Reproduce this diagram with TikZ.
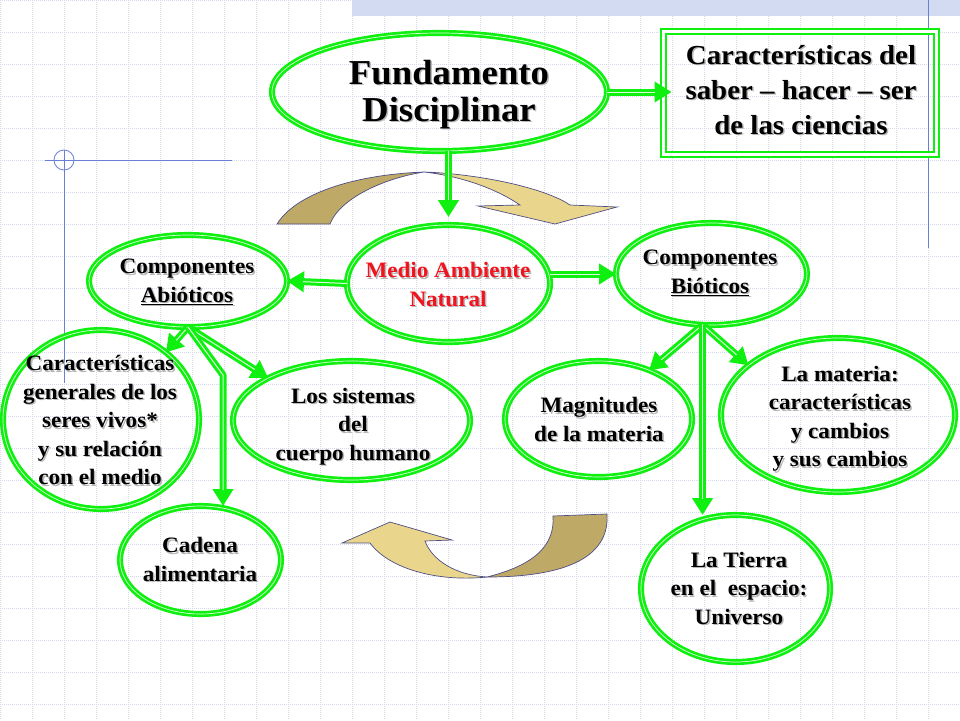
\documentclass[tikz,border=0pt]{standalone}
\usepackage{fontspec}
\setmainfont{Liberation Serif}[FakeStretch=1.05]
\usetikzlibrary{shapes.geometric,arrows.meta}

\definecolor{leafgreen}{HTML}{10F010}
\definecolor{gridblue}{HTML}{D5D9EE}
\definecolor{ruleblue}{HTML}{6A80D8}
\definecolor{bandblue}{HTML}{D3DBF2}
\definecolor{ribbondark}{HTML}{BEA967}
\definecolor{ribbonlight}{HTML}{E9D68C}
\definecolor{ribbonline}{HTML}{4E4E86}
\definecolor{titlered}{HTML}{F0141E}

% text with a soft grey drop shadow
\newcommand{\shadowtxt}[1]{%
  \leavevmode\rlap{\hspace{1.5pt}\raisebox{-1.5pt}{\color{black!28}\begin{tabular}{@{}c@{}}#1\end{tabular}}}%
  \begin{tabular}{@{}c@{}}#1\end{tabular}}

\tikzset{
  ell/.style={ellipse, draw=leafgreen, double=leafgreen!15!white, line width=2.7pt, double distance=0.7pt, inner sep=0pt, outer sep=0pt},
  framebox/.style={rectangle, draw=leafgreen, double=white, line width=2.2pt, double distance=2.4pt, inner sep=0pt, outer sep=0pt},
  txt/.style={font=\bfseries\fontsize{22}{28.5}\selectfont, inner sep=0pt},
  conn/.style={draw=leafgreen, line width=7pt, line join=round, -{Triangle[length=17pt,width=20pt]},
    postaction={draw=leafgreen!15!white, line width=1pt, arrows=-, shorten >=#1}},
  conn/.default=16pt,
  gridline/.style={gridblue, line width=0.5pt, dash pattern=on 1pt off 1pt},
  rule/.style={ruleblue, line width=0.8pt},
  ribbonback/.style={fill=ribbondark, draw=ribbonline, line width=0.7pt},
  ribbonfront/.style={fill=ribbonlight, draw=ribbonline, line width=0.7pt}
}

\begin{document}
\begin{tikzpicture}[x=1pt, y=-1pt]
    \useasboundingbox (0,0) rectangle (960,720);

    % Background grid and page rules
    \foreach \gx in {0,32,...,960} \draw[gridline] (\gx,0) -- (\gx,720);
    \foreach \gy in {0,32,...,720} \draw[gridline] (0,\gy) -- (960,\gy);
    \fill[bandblue] (352,0) rectangle (960,16);
    \draw[rule] (928,0) -- (928,248);
    \draw[rule] (45,160) -- (232,160);
    \draw[rule] (64,150) -- (64,383);
    \draw[rule] (64,160) circle[radius=10pt];

    % Curved ribbon arrows
    \draw[ribbonback] (277,224) .. controls (295,195) and (350,175) .. (424,172)
        .. controls (385,178) and (340,198) .. (330,224) -- cycle;
    \draw[ribbonfront] (424,172) .. controls (480,174) and (545,188) .. (570,205)
        -- (617,207) -- (555,224) -- (478,206) -- (520,205)
        .. controls (495,188) and (460,176) .. (424,172) -- cycle;
    \draw[ribbonback] (553,516) -- (607,514) .. controls (610,560) and (560,577) .. (487,577)
        .. controls (535,565) and (555,545) .. (553,516) -- cycle;
    \draw[ribbonfront] (487,577) .. controls (440,582) and (390,570) .. (370,543)
        -- (342,543) -- (390,522) -- (452,540) -- (425,541)
        .. controls (432,560) and (455,575) .. (487,577) -- cycle;

    % Ellipses and frame
    \node[ell, minimum width=335pt, minimum height=118pt] (fund) at (439.5,92) {};
    \node[framebox, minimum width=273pt, minimum height=123pt] (box) at (800,93) {};
    \node[ell, minimum width=203pt, minimum height=117pt] (medio) at (448.5,283.5) {};
    \node[ell, minimum width=198pt, minimum height=92pt] (abio) at (188,281) {};
    \node[ell, minimum width=191pt, minimum height=102pt] (bio) at (711.5,274) {};
    \node[ell, minimum width=196pt, minimum height=179pt] (gen) at (101,419.5) {};
    \node[ell, minimum width=237pt, minimum height=119pt] (sist) at (351.5,420.5) {};
    \node[ell, minimum width=187pt, minimum height=116pt] (mag) at (598.5,419) {};
    \node[ell, minimum width=234pt, minimum height=154pt] (mat) at (838,415) {};
    \node[ell, minimum width=161pt, minimum height=108pt] (cad) at (200.5,560) {};
    \node[ell, minimum width=189pt, minimum height=147pt] (tierra) at (735.5,588.5) {};

    % Labels
    \node[txt, font=\bfseries\fontsize{35}{37}\selectfont] (fund-txt) at (449,96) {\shadowtxt{Fundamento\\Disciplinar}};
    \node[txt, font=\bfseries\fontsize{27.5}{35}\selectfont] (box-txt) at (801,93) {\shadowtxt{Características del\\saber – hacer – ser\\de las ciencias}};
    \node[txt, text=titlered] (medio-txt) at (448,287) {\shadowtxt{Medio Ambiente\\Natural}};
    \node[txt] (abio-txt) at (187,283) {\shadowtxt{Componentes\\\underline{Abióticos}}};
    \node[txt] (bio-txt) at (710,274) {\shadowtxt{Componentes\\\underline{Bióticos}}};
    \node[txt] (gen-txt) at (100,423) {\shadowtxt{Características\\generales de los\\seres vivos*\\y su relación\\con el medio}};
    \node[txt] (sist-txt) at (353,427) {\shadowtxt{Los sistemas\\del\\cuerpo humano}};
    \node[txt] (mag-txt) at (599,422) {\shadowtxt{Magnitudes\\de la materia}};
    \node[txt] (mat-txt) at (840,419) {\shadowtxt{La materia:\\características\\y cambios\\y sus cambios}};
    \node[txt] (cad-txt) at (200,562) {\shadowtxt{Cadena\\alimentaria}};
    \node[txt] (tierra-txt) at (739,591) {\shadowtxt{La Tierra\\en el~ espacio:\\Universo}};

    % Connectors
    \coordinate (abio-bend) at (223,375);
    \draw[conn=25pt, shorten >=8pt] (fund.south -| medio.north) -- (medio.north);
    \draw[conn=9pt, shorten >=-8pt] (fund.east) -- (fund.east -| box.west);
    \draw[conn] (medio.west) -- (abio.east);
    \draw[conn] (medio.east |- bio.west) -- (bio.west);
    \draw[conn] (abio.south) -- (gen.46);
    \draw[conn] (abio.south) -- (sist.153);
    \draw[conn] (abio.south) -- (abio-bend) -- (abio-bend |- cad.north);
    \draw[conn] (bio.260) -- (mag.44);
    \draw[conn] (bio.260) -- (mat.151);
    \draw[conn] (bio.260) -- (bio.260 |- tierra.north);
\end{tikzpicture}
\end{document}
